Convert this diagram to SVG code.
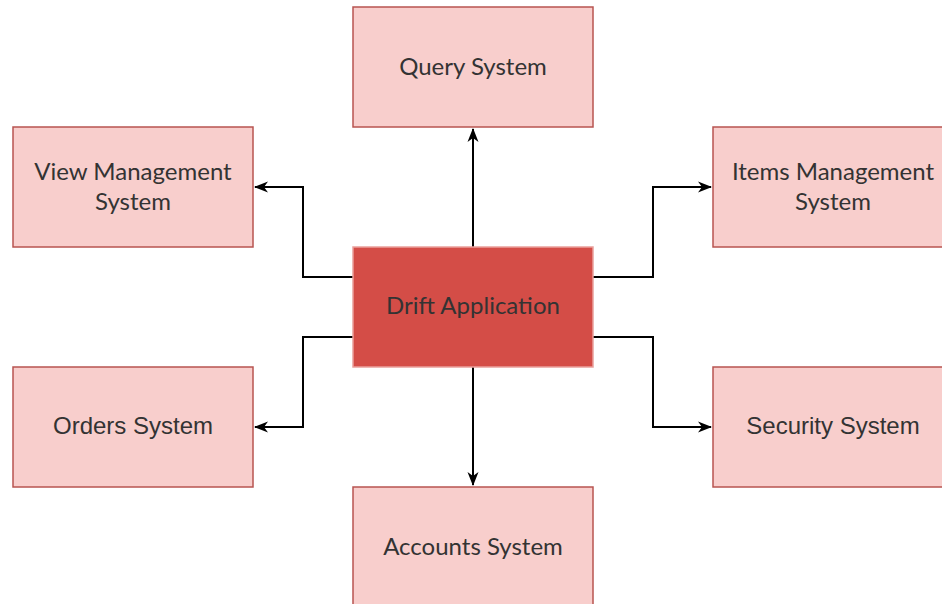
<svg xmlns="http://www.w3.org/2000/svg" width="942" height="604" viewBox="0 0 942 604">
<defs>
<style>
.box{fill:#f8cecc;stroke:#b85450;stroke-width:1.5}
.main{fill:#d44d47;stroke:#eaa09c;stroke-width:1.5}
.t{font-family:Lato,"Liberation Sans",sans-serif;font-size:24px;fill:#333;text-anchor:middle}
.a{font-family:"Liberation Sans",Arial,sans-serif;font-size:24px;fill:#333;text-anchor:middle}
.c{fill:none;stroke:#000;stroke-width:2}
</style>
<marker id="arr" viewBox="0 0 14 14" refX="13" refY="7" markerWidth="14" markerHeight="14" markerUnits="userSpaceOnUse" orient="auto">
<path d="M0,1.5 L14,7 L0,12.5 L4,7 Z" fill="#000"/>
</marker>
</defs>
<rect width="942" height="604" fill="#fff"/>
<g id="connectors">
<path class="c" d="M473,247 V129" marker-end="url(#arr)"/>
<path class="c" d="M473,367 V485" marker-end="url(#arr)"/>
<path class="c" d="M353,277 H303 V187 H255" marker-end="url(#arr)"/>
<path class="c" d="M353,337 H303 V427 H255" marker-end="url(#arr)"/>
<path class="c" d="M593,277 H653 V187 H711" marker-end="url(#arr)"/>
<path class="c" d="M593,337 H653 V427 H711" marker-end="url(#arr)"/>
</g>
<g id="query"><rect class="box" x="353" y="7" width="240" height="120"/><text class="t" x="473" y="75">Query System</text></g>
<g id="view"><rect class="box" x="13" y="127" width="240" height="120"/><text class="t" x="133" y="180">View Management</text><text class="t" x="133" y="210">System</text></g>
<g id="items"><rect class="box" x="713" y="127" width="240" height="120"/><text class="t" x="833" y="180">Items Management</text><text class="t" x="833" y="210">System</text></g>
<g id="drift"><rect class="main" x="353" y="247" width="240" height="120"/><text class="t" x="473" y="314">Drift Application</text></g>
<g id="orders"><rect class="box" x="13" y="367" width="240" height="120"/><text class="a" x="133" y="434">Orders System</text></g>
<g id="security"><rect class="box" x="713" y="367" width="240" height="120"/><text class="a" x="833" y="434">Security System</text></g>
<g id="accounts"><rect class="box" x="353" y="487" width="240" height="120"/><text class="t" x="473" y="555">Accounts System</text></g>
</svg>
